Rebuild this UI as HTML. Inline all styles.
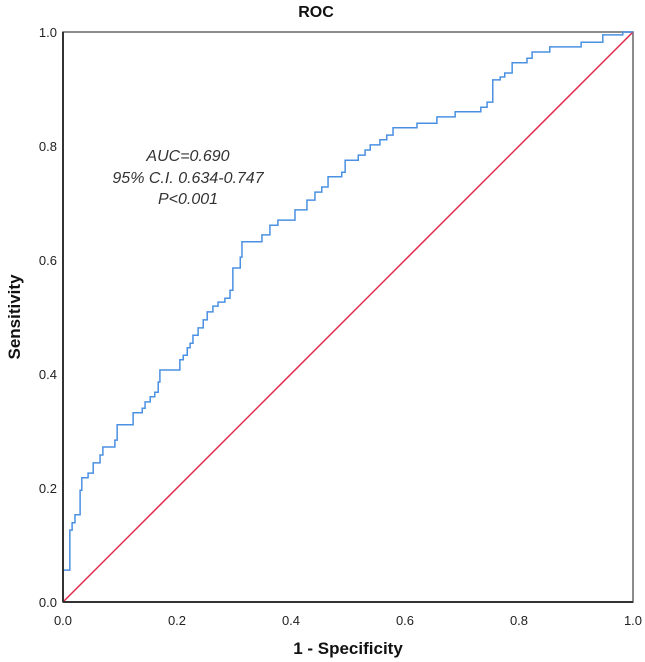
<!DOCTYPE html>
<html><head><meta charset="utf-8"><style>
html,body{margin:0;padding:0;background:#fff;}
svg{display:block;font-family:"Liberation Sans",Arial,sans-serif;}
</style></head><body>
<svg id="chart" width="645" height="662" viewBox="0 0 645 662">
<text x="316" y="17" text-anchor="middle" font-size="16" font-weight="bold" fill="#111">ROC</text>
<rect x="63" y="32" width="570" height="570" fill="#fff" stroke="#666" stroke-width="1.5"/>
<g id="ticks"></g>
<line id="ref" stroke="#e0294a" stroke-width="1.5"/>
<path id="curve" fill="none" stroke="#4a90e2" stroke-width="1.5"/>
<line x1="63" y1="32" x2="63" y2="602" stroke="#333" stroke-width="2"/>
<line x1="63" y1="602" x2="633" y2="602" stroke="#333" stroke-width="2"/>
<g font-style="italic" font-size="16" fill="#333" text-anchor="middle">
<text x="188" y="161">AUC=0.690</text>
<text x="188" y="183">95% C.I. 0.634-0.747</text>
<text x="188" y="204">P&lt;0.001</text>
</g>
<text x="348" y="654" text-anchor="middle" font-size="17" font-weight="bold" fill="#111">1 - Specificity</text>
<text transform="translate(20,317) rotate(-90)" text-anchor="middle" font-size="17" font-weight="bold" fill="#111">Sensitivity</text>
</svg>
<script>
const fpr=[0,0,.012,.016,.021,.030,.033,.044,.053,.065,.070,.091,.095,.123,.139,.144,.153,.161,.167,.170,.205,.211,.218,.223,.228,.237,.246,.253,.263,.272,.284,.293,.298,.311,.314,.349,.363,.377,.407,.428,.442,.454,.465,.489,.495,.518,.530,.539,.556,.568,.579,.621,.656,.688,.733,.744,.754,.767,.775,.788,.814,.823,.854,.909,.947,.982,1];
const tpr=[0,.056,.126,.139,.153,.196,.218,.226,.244,.258,.272,.284,.311,.332,.340,.351,.360,.368,.386,.407,.425,.433,.446,.454,.468,.481,.495,.509,.519,.526,.533,.547,.586,.605,.632,.644,.661,.670,.688,.705,.719,.728,.746,.754,.775,.784,.793,.802,.811,.819,.832,.840,.851,.860,.868,.877,.916,.921,.928,.946,.954,.965,.974,.982,.995,1,1];
const tickLabels=["0.0","0.2","0.4","0.6","0.8","1.0"];
const tickValues=[0,0.2,0.4,0.6,0.8,1];
const X=v=>63+v*570, Y=v=>602-v*570;
const NS="http://www.w3.org/2000/svg";
let d="M"+X(fpr[0])+","+Y(tpr[0]);
for(let i=1;i<fpr.length;i++){d+=" H"+X(fpr[i])+" V"+Y(tpr[i]);}
document.getElementById('curve').setAttribute('d',d);
const r=document.getElementById('ref');
r.setAttribute('x1',X(0));r.setAttribute('y1',Y(0));r.setAttribute('x2',X(1));r.setAttribute('y2',Y(1));
const g=document.getElementById('ticks');
tickValues.forEach((v,i)=>{
 const t=document.createElementNS(NS,'text');
 
 
 t.setAttribute('x',57);t.setAttribute('y',Y(v)+5);t.setAttribute('text-anchor','end');
 t.setAttribute('font-size','13');t.setAttribute('fill','#222');t.textContent=tickLabels[i];g.appendChild(t);
 const u=document.createElementNS(NS,'text');
 
 
 u.setAttribute('x',X(v));u.setAttribute('y',625);u.setAttribute('text-anchor','middle');
 u.setAttribute('font-size','13');u.setAttribute('fill','#222');u.textContent=tickLabels[i];g.appendChild(u);
});
</script>
</body></html>
